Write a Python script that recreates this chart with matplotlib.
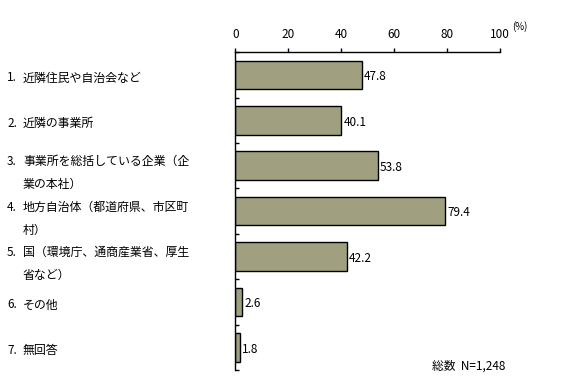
import matplotlib.pyplot as plt

plt.rcParams["font.family"] = ["Noto Sans CJK JP", "DejaVu Sans"]

numbers = ["1.", "2.", "3.", "4.", "5.", "6.", "7."]
labels = [
    ["近隣住民や自治会など"],
    ["近隣の事業所"],
    ["事業所を総括している企業（企", "業の本社）"],
    ["地方自治体（都道府県、市区町", "村）"],
    ["国（環境庁、通商産業省、厚生", "省など）"],
    ["その他"],
    ["無回答"],
]
values = [47.8, 40.1, 53.8, 79.4, 42.2, 2.6, 1.8]
xticks = [0, 20, 40, 60, 80, 100]
note = "総数  N=1,248"

W, H = 568, 390
fig = plt.figure(figsize=(W / 100, H / 100), dpi=100)
ax = fig.add_axes([235.3 / W, 1 - 370 / H, (499.7 - 235.3) / W, (370 - 52.3) / H])

pos = list(range(len(values)))
ax.barh(pos, values, height=0.63, color="#a0a080", edgecolor="black", linewidth=1.0)
ax.set_ylim(len(values) - 0.5, -0.5)
ax.set_xlim(0, 100)

for y, v in zip(pos, values):
    ax.text(v + 0.8, y + 0.04, f"{v}", va="center", ha="left", fontsize=8.5)

ax.xaxis.tick_top()
ax.set_xticks(xticks)
ax.tick_params(axis="x", direction="out", length=3, width=1, pad=5, labelsize=8.5)
ax.set_yticks([i + 0.5 for i in range(-1, len(values))])
ax.set_yticklabels([])
ax.tick_params(axis="y", direction="in", length=3, width=1)
for s in ["right", "bottom"]:
    ax.spines[s].set_visible(False)
for s in ["left", "top"]:
    ax.spines[s].set_linewidth(1.0)

fig.text(512 / W, 1 - 27 / H, "(%)", fontsize=7, ha="left", va="center")

# category labels in the left margin
slot = (370 - 52.3) / len(values)
for i, (num, lines) in enumerate(zip(numbers, labels)):
    yc = 52.3 + (i + 0.5) * slot
    y0 = yc + 3 if len(lines) == 1 else yc - 4
    fig.text(7 / W, 1 - y0 / H, num, fontsize=8.5, ha="left", va="center")
    for j, line in enumerate(lines):
        fig.text(23 / W, 1 - (y0 + 23 * j) / H, line, fontsize=8.6,
                 ha="left", va="center")

fig.text(432 / W, 1 - 366 / H, note, fontsize=8.5, ha="left", va="center")

fig.savefig("out.png", dpi=100)
